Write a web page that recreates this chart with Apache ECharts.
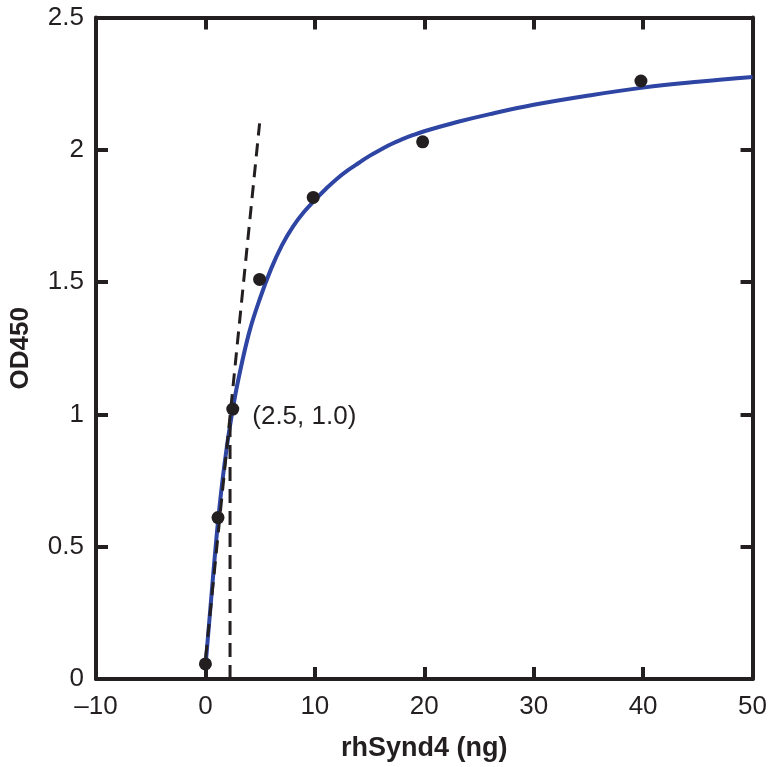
<!DOCTYPE html>
<html>
<head>
<meta charset="utf-8">
<script src="https://cdn.jsdelivr.net/npm/echarts@6/dist/echarts.min.js"></script>
<style>
  html, body { margin: 0; padding: 0; background: #fff; }
  #chart { width: 770px; height: 767px; }
</style>
</head>
<body>
<div id="chart"></div>
<script>
  // measured points
  const doseNg = [0, 1.15, 2.5, 4.95, 9.85, 19.85, 39.8]
  const od450 = [0.057, 0.61, 1.02, 1.51, 1.82, 2.03, 2.26]

  // fitted curve
  const fitX = [0.05, 0.5, 1, 1.5, 2, 2.5, 3, 4, 5, 6, 7, 8, 9, 10, 11, 12, 13, 14, 15, 16, 17, 18, 19, 20, 23, 26, 30, 35, 40, 45, 50]
  const fitY = [0.07, 0.29, 0.53, 0.73, 0.89, 1.02, 1.13, 1.31, 1.44, 1.55, 1.64, 1.71, 1.765, 1.81, 1.852, 1.89, 1.922, 1.95, 1.977, 2.00, 2.022, 2.04, 2.056, 2.07, 2.105, 2.135, 2.17, 2.205, 2.235, 2.257, 2.275]

  // initial slope line and its drop to the x axis
  const slopeX = [0.02, 4.95]
  const slopeY = [0.08, 2.10]
  const dropX = [2.25, 2.25]
  const dropY = [0, 0.98]

  const xTicks = { min: -10, max: 50, step: 10 }
  const yTicks = { min: 0, max: 2.5, step: 0.5 }

  const ink = '#231f20'
  const font = 'Liberation Sans, Arial, Helvetica, sans-serif'

  const zip = (a, b) => a.map((v, i) => [v, b[i]])

  const chart = echarts.init(document.getElementById('chart'))

  const lineStyle = { color: ink, width: 4 }
  const baseX = {
    type: 'value',
    min: xTicks.min,
    max: xTicks.max,
    interval: xTicks.step,
    splitLine: { show: false },
    axisLine: { show: true, onZero: false, lineStyle: lineStyle },
    axisTick: { show: true, inside: true, length: 12, lineStyle: { color: ink, width: 4 } }
  }
  const baseY = {
    type: 'value',
    min: yTicks.min,
    max: yTicks.max,
    interval: yTicks.step,
    splitLine: { show: false },
    axisLine: { show: true, onZero: false, lineStyle: lineStyle },
    axisTick: { show: true, inside: true, length: 12, lineStyle: { color: ink, width: 4 } }
  }

  chart.setOption({
    animation: false,
    backgroundColor: '#fff',
    textStyle: { fontFamily: font },
    grid: { left: 90, right: 14, top: 17.5, bottom: 87, containLabel: false },
    xAxis: [
      Object.assign({}, baseX, {
        position: 'bottom',
        name: 'rhSynd4 (ng)',
        nameLocation: 'middle',
        nameGap: 56,
        nameTextStyle: { color: ink, fontSize: 27, fontWeight: 'bold', fontFamily: font },
        axisLabel: {
          color: ink, fontSize: 26, fontFamily: font, margin: 15,
          formatter: v => String(v).replace('-', '\u2013')
        }
      }),
      Object.assign({}, baseX, { position: 'top', axisLabel: { show: false } })
    ],
    yAxis: [
      Object.assign({}, baseY, {
        position: 'left',
        name: 'OD450',
        nameLocation: 'middle',
        nameGap: 62,
        nameTextStyle: { color: ink, fontSize: 26, fontWeight: 'bold', fontFamily: font },
        axisLabel: { color: ink, fontSize: 26, fontFamily: font, margin: 12 }
      }),
      Object.assign({}, baseY, { position: 'right', axisLabel: { show: false } })
    ],
    series: [
      {
        name: 'fit',
        type: 'line',
        smooth: 0.4,
        showSymbol: false,
        z: 2,
        lineStyle: { color: '#2e45a3', width: 4 },
        data: zip(fitX, fitY)
      },
      {
        name: 'slope',
        type: 'line',
        showSymbol: false,
        z: 3,
        lineStyle: { color: ink, width: 3, type: [13, 8] },
        data: zip(slopeX, slopeY)
      },
      {
        name: 'drop',
        type: 'line',
        showSymbol: false,
        z: 3,
        lineStyle: { color: ink, width: 3, type: [14, 8] },
        data: zip(dropX, dropY)
      },
      {
        name: 'measured',
        type: 'scatter',
        symbolSize: 13,
        z: 4,
        itemStyle: { color: ink, opacity: 1 },
        data: zip(doseNg, od450).map((p, i) => i === 2 ? {
          value: p,
          label: {
            show: true,
            position: 'right',
            distance: 13,
            offset: [0, 8],
            formatter: '(2.5, 1.0)',
            color: ink,
            fontSize: 26,
            fontFamily: font
          }
        } : p)
      }
    ]
  })
</script>
</body>
</html>
